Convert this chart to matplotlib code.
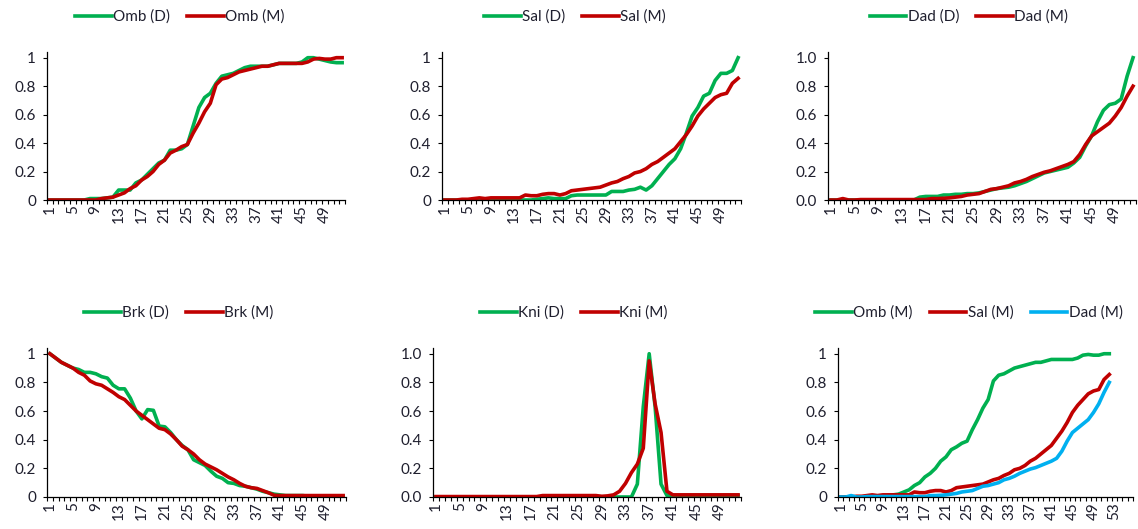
import matplotlib
matplotlib.use('Agg')
import matplotlib.pyplot as plt
import numpy as np

plt.rcParams['font.family'] = ['Lato', 'DejaVu Sans']

# values, one per stage (1..52)
omb_d = [0, 0, 0, 0, 0, 0, 0, 0.01, 0.01, 0.01, 0.015, 0.02, 0.07, 0.07, 0.07, 0.12, 0.14, 0.18, 0.22, 0.26,
         0.28, 0.35, 0.35, 0.36, 0.39, 0.52, 0.65, 0.72, 0.75, 0.82, 0.87, 0.88, 0.89, 0.91, 0.93, 0.94, 0.94,
         0.94, 0.94, 0.95, 0.96, 0.96, 0.96, 0.96, 0.97, 1.0, 1.0, 0.99, 0.98, 0.97, 0.965, 0.965]
omb_m = [0, 0, 0, 0, 0, 0, 0, 0, 0, 0.01, 0.015, 0.02, 0.035, 0.05, 0.08, 0.1, 0.14, 0.165, 0.2, 0.25,
         0.28, 0.33, 0.35, 0.375, 0.39, 0.47, 0.54, 0.62, 0.68, 0.81, 0.85, 0.86, 0.88, 0.9, 0.91, 0.92, 0.93,
         0.94, 0.94, 0.95, 0.96, 0.96, 0.96, 0.96, 0.96, 0.97, 0.99, 0.995, 0.99, 0.99, 1.0, 1.0]
sal_d = [0, 0, 0, 0, 0, 0, 0, 0, 0, 0, 0, 0, 0, 0, 0, 0, 0.005, 0.01, 0.015, 0.01,
         0.01, 0.01, 0.03, 0.035, 0.035, 0.035, 0.035, 0.035, 0.035, 0.06, 0.06, 0.06, 0.07, 0.075, 0.09, 0.07,
         0.1, 0.15, 0.2, 0.25, 0.29, 0.36, 0.47, 0.59, 0.65, 0.73, 0.75, 0.84, 0.89, 0.89, 0.91, 1.0]
sal_m = [0, 0, 0, 0.005, 0.005, 0.01, 0.015, 0.01, 0.015, 0.015, 0.015, 0.015, 0.015, 0.015, 0.035, 0.03,
         0.03, 0.04, 0.045, 0.045, 0.035, 0.045, 0.065, 0.07, 0.075, 0.08, 0.085, 0.09, 0.105, 0.12, 0.13,
         0.15, 0.165, 0.19, 0.2, 0.22, 0.25, 0.27, 0.3, 0.33, 0.36, 0.41, 0.46, 0.52, 0.59, 0.64, 0.68, 0.72,
         0.74, 0.75, 0.82, 0.855]
dad_d = [0, 0, 0, 0, 0, 0, 0, 0, 0, 0, 0, 0, 0, 0, 0, 0.02, 0.025, 0.025, 0.025, 0.035, 0.035, 0.04, 0.04,
         0.045, 0.045, 0.05, 0.06, 0.07, 0.08, 0.085, 0.09, 0.1, 0.115, 0.13, 0.15, 0.17, 0.19, 0.2, 0.21, 0.22,
         0.23, 0.26, 0.3, 0.38, 0.45, 0.55, 0.63, 0.67, 0.68, 0.71, 0.87, 1.0]
dad_m = [0, 0, 0.01, 0, 0, 0.003, 0.003, 0.003, 0.003, 0.003, 0.003, 0.003, 0.003, 0.003, 0.003, 0.003,
         0.003, 0.01, 0.01, 0.012, 0.015, 0.02, 0.025, 0.035, 0.04, 0.045, 0.06, 0.075, 0.08, 0.09, 0.1, 0.12,
         0.13, 0.145, 0.165, 0.18, 0.195, 0.205, 0.22, 0.235, 0.25, 0.27, 0.32, 0.39, 0.45, 0.48, 0.51, 0.54,
         0.59, 0.65, 0.73, 0.8]
brk_d = [1.0, 0.97, 0.94, 0.92, 0.9, 0.89, 0.87, 0.87, 0.86, 0.84, 0.83, 0.78, 0.755, 0.755, 0.69, 0.6, 0.545,
         0.61, 0.605, 0.495, 0.49, 0.45, 0.4, 0.36, 0.33, 0.26, 0.24, 0.22, 0.18, 0.145, 0.13, 0.1, 0.095, 0.08,
         0.075, 0.065, 0.055, 0.04, 0.03, 0.02, 0.015, 0.01, 0.01, 0.01, 0.01, 0.005, 0.005, 0.005, 0.005,
         0.005, 0.005, 0.005]
brk_m = [1.0, 0.97, 0.94, 0.92, 0.9, 0.87, 0.85, 0.81, 0.79, 0.78, 0.755, 0.73, 0.7, 0.68, 0.64, 0.6, 0.57,
         0.54, 0.51, 0.48, 0.47, 0.44, 0.4, 0.355, 0.33, 0.3, 0.26, 0.23, 0.21, 0.19, 0.165, 0.14, 0.12, 0.095,
         0.075, 0.065, 0.06, 0.045, 0.03, 0.012, 0.01, 0.01, 0.01, 0.01, 0.01, 0.01, 0.01, 0.01, 0.01, 0.01,
         0.01, 0.01]
kni_d = [0, 0, 0, 0, 0, 0, 0, 0, 0, 0, 0, 0, 0, 0, 0, 0, 0, 0, 0, 0, 0, 0, 0, 0, 0, 0, 0, 0, 0, 0, 0, 0, 0, 0,
         0.09, 0.63, 1.0, 0.63, 0.09, 0.01, 0.01, 0.01, 0.01, 0.01, 0.01, 0.01, 0.01, 0.01, 0.01, 0.01, 0.01,
         0.01]
kni_m = [0.003, 0.003, 0.003, 0.003, 0.003, 0.003, 0.003, 0.003, 0.003, 0.003, 0.003, 0.003, 0.003, 0.003,
         0.003, 0.003, 0.003, 0.003, 0.01, 0.01, 0.01, 0.01, 0.01, 0.01, 0.01, 0.01, 0.01, 0.01, 0.005, 0.008,
         0.015, 0.04, 0.095, 0.17, 0.23, 0.34, 0.95, 0.65, 0.45, 0.04, 0.015, 0.015, 0.015, 0.015, 0.015, 0.015,
         0.015, 0.015, 0.015, 0.015, 0.015, 0.015]

GREEN = '#00B050'
RED = '#C00000'
BLUE = '#00B0F0'
TXT = '#1f1f2e'
FS = 11

W, H = 1138, 529
fig = plt.figure(figsize=(W / 100, H / 100), dpi=100)


def make_axes(left, right, top, bottom, ncat, last_label, one_dec):
    ax = fig.add_axes([left / W, 1 - bottom / H, (right - left) / W, (bottom - top) / H])
    ax.set_xlim(0.5, ncat + 0.5)
    ax.set_ylim(0, 1.04)
    for s in ['top', 'right']:
        ax.spines[s].set_visible(False)
    for s in ['left', 'bottom']:
        ax.spines[s].set_color('black')
        ax.spines[s].set_linewidth(0.9)
    # tick marks between categories, labels on every 4th category
    ax.set_xticks(np.arange(0.5, ncat + 1, 1))
    ax.set_xticklabels([])
    ax.set_xticks(np.arange(1, last_label + 1, 4), minor=True)
    ax.set_xticklabels([str(v) for v in range(1, last_label + 1, 4)], minor=True, rotation=90)
    ax.tick_params(axis='x', which='major', length=3, width=0.8, color='black')
    ax.tick_params(axis='x', which='minor', length=0, pad=4, labelsize=FS, labelcolor=TXT)
    yt = [0, 0.2, 0.4, 0.6, 0.8, 1.0]
    ax.set_yticks(yt)
    if one_dec:
        ax.set_yticklabels(['%.1f' % v for v in yt])
    else:
        ax.set_yticklabels(['0', '0.2', '0.4', '0.6', '0.8', '1'])
    ax.tick_params(axis='y', length=3, width=0.8, color='black', labelsize=FS, labelcolor=TXT, pad=5)
    return ax


def legend(ax, cx, cy):
    ax.legend(loc='center', bbox_to_anchor=(cx / W, 1 - cy / H), bbox_transform=fig.transFigure,
              ncol=3, frameon=False, fontsize=FS, handlelength=2.4, handletextpad=0.1,
              columnspacing=1.1, labelcolor=TXT)


x = np.arange(1, 53)
lw = 2.6

ax = make_axes(47, 345, 52, 200, 52, 49, False)
ax.plot(x, omb_d, color=GREEN, lw=lw, label='Omb (D)')
ax.plot(x, omb_m, color=RED, lw=lw, label='Omb (M)')
legend(ax, 180, 17)

ax = make_axes(442, 741, 52, 200, 52, 49, False)
ax.plot(x, sal_d, color=GREEN, lw=lw, label='Sal (D)')
ax.plot(x, sal_m, color=RED, lw=lw, label='Sal (M)')
legend(ax, 575, 17)

ax = make_axes(828, 1136, 52, 200, 52, 49, True)
ax.plot(x, dad_d, color=GREEN, lw=lw, label='Dad (D)')
ax.plot(x, dad_m, color=RED, lw=lw, label='Dad (M)')
legend(ax, 969, 17)

ax = make_axes(47, 346, 348, 497, 52, 49, False)
ax.plot(x, brk_d, color=GREEN, lw=lw, label='Brk (D)')
ax.plot(x, brk_m, color=RED, lw=lw, label='Brk (M)')
legend(ax, 179, 313)

ax = make_axes(433, 741, 348, 497, 52, 49, True)
ax.plot(x, kni_d, color=GREEN, lw=lw, label='Kni (D)')
ax.plot(x, kni_m, color=RED, lw=lw, label='Kni (M)')
legend(ax, 574, 313)

ax = make_axes(838, 1133, 348, 497, 56, 53, False)
ax.plot(x, omb_m, color=GREEN, lw=lw, label='Omb (M)')
ax.plot(x, sal_m, color=RED, lw=lw, label='Sal (M)')
ax.plot(x, dad_m, color=BLUE, lw=lw, label='Dad (M)')
legend(ax, 969, 313)

fig.savefig('out.png', dpi=100, facecolor='white')
